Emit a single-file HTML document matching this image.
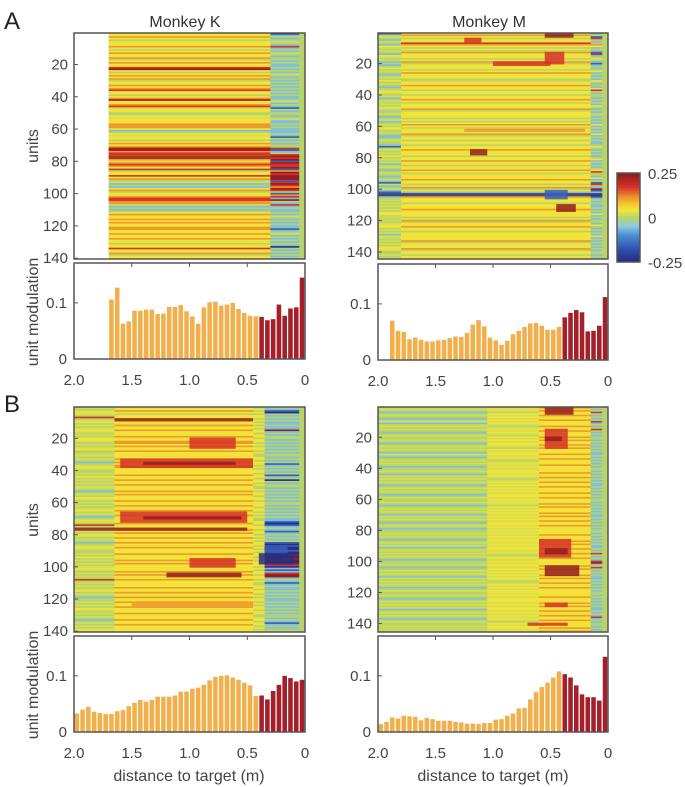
<!DOCTYPE html>
<html><head><meta charset="utf-8">
<style>
html,body{margin:0;padding:0;background:#fff;}
svg{display:block;font-family:"Liberation Sans","DejaVu Sans",sans-serif;}
</style></head>
<body>
<svg id="fig" width="685" height="787" viewBox="0 0 685 787" xmlns="http://www.w3.org/2000/svg">
<text x="4" y="29" font-size="24" fill="#222">A</text>
<text x="4" y="412" font-size="24" fill="#222">B</text>
<text x="185" y="27" font-size="16" fill="#333" text-anchor="middle">Monkey K</text>
<text x="489" y="27" font-size="16" fill="#333" text-anchor="middle">Monkey M</text>
<text transform="translate(38,146) rotate(-90)" font-size="16" fill="#444" text-anchor="middle">units</text>
<text transform="translate(38,312) rotate(-90)" font-size="16" fill="#444" text-anchor="middle">unit modulation</text>
<text transform="translate(38,520) rotate(-90)" font-size="16" fill="#444" text-anchor="middle">units</text>
<text transform="translate(38,685) rotate(-90)" font-size="16" fill="#444" text-anchor="middle">unit modulation</text>
<text x="189" y="781" font-size="16" fill="#444" text-anchor="middle">distance to target (m)</text>
<text x="493" y="781" font-size="16" fill="#444" text-anchor="middle">distance to target (m)</text>
<g id="layer"></g>
</svg>
<script>
// ---------- data ----------
const xTickVals = [2.0, 1.5, 1.0, 0.5, 0];
const xTickLabels = ["2.0", "1.5", "1.0", "0.5", "0"];
const unitTicks = [20, 40, 60, 80, 100, 120, 140];
const modTicks = [0, 0.1];
const modTickLabels = ["0", "0.1"];
const cbarTicks = [0.25, 0, -0.25];
const cbarLabels = ["0.25", "0", "-0.25"];

const akBarStart = 6;
const akBars = [0.106,0.127,0.063,0.067,0.086,0.086,0.088,0.088,0.080,0.081,0.093,0.093,0.096,0.085,0.076,0.063,0.092,0.101,0.102,0.095,0.097,0.100,0.089,0.082,0.077,0.076,
  0.075,0.069,0.071,0.097,0.077,0.090,0.092,0.145];
const amBarStart = 2;
const amBars = [0.070,0.052,0.050,0.037,0.040,0.036,0.033,0.033,0.035,0.036,0.039,0.042,0.041,0.048,0.063,0.071,0.060,0.040,0.035,0.027,0.034,0.046,0.052,0.059,0.065,0.066,0.061,0.054,0.054,0.059,
  0.076,0.084,0.089,0.085,0.051,0.052,0.061,0.112];
const bkBarStart = 0;
const bkBars = [0.033,0.040,0.045,0.036,0.034,0.032,0.032,0.037,0.039,0.046,0.052,0.057,0.054,0.057,0.063,0.063,0.063,0.065,0.072,0.072,0.077,0.079,0.084,0.092,0.098,0.100,0.101,0.097,0.093,0.088,0.083,0.064,
  0.065,0.058,0.073,0.084,0.100,0.096,0.090,0.093];
const bmBarStart = 0;
const bmBars = [0.014,0.018,0.026,0.024,0.029,0.028,0.027,0.021,0.025,0.023,0.020,0.020,0.020,0.018,0.017,0.015,0.015,0.014,0.016,0.016,0.022,0.023,0.029,0.033,0.042,0.043,0.058,0.071,0.080,0.088,0.097,0.108,
  0.103,0.097,0.083,0.067,0.062,0.062,0.056,0.134];

// heatmap row codes: n=-0.24 b=-0.16 c=-0.06 g=0 w=0.02 y=0.045 o=0.11 r=0.17 d=0.24
const akSegStart = [6, 34, 39];
const akMain = ["yyoygyyyoy","gyoyyogyoy","yrdygyoyog","yyoyoryygy","odyyorwyyg","gywyyyoooy","cgywyygyoy","orrorrygoy","oroyrgyyry","ogwcgcyogy","yorroowcgc","gyoyyoyoyy","ooyyoyyoyy","gyyryyogyy"].join("");
const akTail = ["ncgcgwgcrc","gcwgcggcgc","cgcgcwgcgc","gcgcgcgcgc","cgwcgcbgcg","gcgwccgcgc","ccgcbgcgcg","grbcgrdrdb","drrdbodrdd","dbrdrodrgb","orcdgcrcgc","cgcwgcgcgc","cbcgwcgcgc","gcngcgcgcg"].join("");
const akLast = "g";

const amSegStart = [0, 4, 37, 39];
const amLeft = ["bgwgcwgcyw","gwgcywgwcg","cgygwgcgwg","ygwgcgwywg","wcgwgwgyws","gwgcgwcgwg","ywgwgccgwg","gcbgwgwgyg","wgwcgwgcgw","gcgwcbwcgw","cbwgcgwgwg","wgwgyygwgw","gwyygwgwcw","wgwgwgyywg","gwgw"].join("");
const amMain = ["yoygyyroyg","ygoyyygyog","yyygyoyyyg","gyyoyygyyg","yyoygyyyog","yyyygygyoy","gyyyogyygy","ygyyoyyygy","yoyygyyoyg","yyyoyygyog","ycyyoyyygy","yyoyyyygyo","gyyoyygyyy","yyogyyyogy","ygyy"].join("");
const amTail = ["cgbrgcgoyc","gcrbcgygcb","cgcgycgcgc","ygcgcyrgcg","gcgcgcygcg","cggcgcgcyc","gcgcycgcgc","cgygcgcgcg","ycgcgcgyrg","gcycgbrgcd","bcgrbcgcgc","cgcgcycgcg","gcygcgcgcy","cgcgcgcgcg","gcgc"].join("");
const amLast = "g";

const bkSegStart = [0, 7, 31, 33, 39];
const bkLeft = ["wgwywgrgwy","gwgwywgwgy","ywgwgwyggw","wgwgcgwywg","gwgygwgwgw","wgcgwgywgw","gwgwygwgcg","ywgrgwgwgy","wgwgcgwywg","gwgygwgwgw","ywgwgwgrgw","gwgwygwgcg","gwgwgywgwg","wgcgwgwgyw"].join("");
const bkMain = ["yyoygyyoyy","yoyyoyyyoy","yooyoyyoyy","yyoyoyooyy","yyoyyoyyoy","yyoyoyyyoy","yoyyoyyoyy","yyoyyyoyoy","yoyyoyyoyy","yoyyyoyoyy","yyoyoyyoyy","yyoyyoyyoy","yoyyoyyyoy","yyoyyoyyyy"].join("");
const bkMid = ["gygygyygyg","ygygyygyyg","yygygyygyg","gyygyygygy","ygyygyygyg","gygyygyygy","yygyygygyg","gyygyygyyg","ygygyygygy","gyygygyyyg","ygyygyygyg","gyygyygygy","ygygyygyyg","gyygyygygy"].join("");
const bkTail = ["gcbngcgcgc","cgccdcgcgg","cgcgcgcgcg","gcgcgbcgcg","cgbcgngcgg","cgcgcgcgcg","gcgcgcgcgc","cbnbcgcbcg","cgcgbnbnnb","nndndnndrn","cbcrddcgcb","cgccgcgcgc","cgcgcgcgcg","gcgcbcgcgg"].join("");
const bkLast = "g";

const bmSegStart = [0, 19, 28, 37, 39];
const bmLeft = ["gwgcgwgcgw","cgwgwgcgwg","gwgcgwgwgc","wgcgwgwgcg","gwgcwgwgwg","cgwgwgcgwg","gwgcgwgwgc","wgwgcgwgcg","gwgwgcgwgw","cgwgwgwgcg","gwgcgwgwgc","wgwgwgcgwg","gwgcgwgwgw","cgwgwgcgwg","gwgwg"].join("");
const bmMid = ["wywgywywyw","ywgwywywgy","wywyywgywy","ywywgwywyw","wyywywgwyw","ywywywyywy","wywgywywyw","ywywyywywy","wywywyywyw","yywywgwywy","wyywywywyw","ywgwywywyy","wywyyywywy","ywywywywgy","wyywy"].join("");
const bmMain = ["oyoyyoyyoy","yyoyyoyyyo","yoyyoyoyyy","oyyoyyyoyy","yyoyyoyyoy","yoyyyoyyoy","yyoyoyyyoy","oyyoyyoyyy","yyoyyyoyoy","yoyyoyyoyy","yyoyoyyyoy","oyyoyyoyyy","yyoyyyoyoy","yoyyoyyoyy","yyoyo"].join("");
const bmTail = ["gcgrgcgcgr","cgcgrgcgcg","gcgcgcgcgc","cgcgcgcgcg","gcgcgcgcgc","cgcgcgcgcg","gcgcgcgcgc","cgcgcgcgcg","gcgcgcgcgc","cgcgrgcgcr","dcgrgcgcgc","cgcgcgcgcg","gcgcgcgcgc","cgcgcrcgcg","gcgcg"].join("");
const bmLast = "g";

const blobPanel = ["ak","ak","am","am","am","am","am","am","am","am","am","bk","bk","bk","bk","bk","bk","bk","bk","bk","bk","bk","bk","bm","bm","bm","bm","bm","bm","bm","bm"];
const blobR0 =    [72, 77, 1, 13, 4, 75, 103,101,110,19, 62, 8, 20,33, 35, 66,69, 76, 92, 95, 104,122,88, 1, 15, 20, 86, 92, 103,127,140];
const blobR1 =    [73, 78, 3, 20, 6, 78, 104,106,114,21, 63, 9, 26,38, 36, 72,70, 77, 98, 100,106,124,91, 5, 27, 22, 97, 95, 109,129,141];
const blobD0 =    [1.7,1.7,0.55,0.55,1.25,1.2,2.0,0.55,0.45,1.0,1.25,1.65,1.0,1.6,1.4,1.6,1.4,2.0,0.4,1.0,1.2,1.5,0.35,0.55,0.55,0.55,0.6,0.55,0.55,0.55,0.7];
const blobD1 =    [0.3,0.3,0.3,0.38,1.1,1.05,0.05,0.35,0.28,0.5,0.2,0.45,0.6,0.45,0.6,0.5,0.55,0.5,0.1,0.6,0.55,0.45,0.15,0.3,0.35,0.4,0.32,0.35,0.25,0.35,0.35];
const blobCode =  ["d","d","d","r","r","d","n","b","d","r","o","d","r","r","d","r","d","d","n","r","d","o","b","d","r","d","r","d","d","r","r"];

// ---------- rendering ----------
const NS = "http://www.w3.org/2000/svg";
const layer = document.getElementById("layer");
const codeVal = {n:-0.24,b:-0.16,c:-0.06,s:-0.03,g:0,w:0.02,y:0.045,o:0.11,r:0.17,d:0.24};
const stops = [[-0.25,[40,40,122]],[-0.18,[48,80,176]],[-0.10,[74,144,208]],[-0.05,[140,203,224]],[0,[184,212,104]],[0.04,[242,232,58]],[0.08,[245,192,48]],[0.12,[236,138,44]],[0.17,[214,50,40]],[0.25,[138,26,30]]];
function cmap(v){
  if(v<=stops[0][0]) return rgb(stops[0][1]);
  for(let i=1;i<stops.length;i++){
    if(v<=stops[i][0]){const a=stops[i-1],b=stops[i];const t=(v-a[0])/(b[0]-a[0]);
      return rgb(a[1].map((c,k)=>Math.round(c+(b[1][k]-c)*t)));}
  }
  return rgb(stops[stops.length-1][1]);
}
function rgb(a){return "rgb("+a.join(",")+")";}
function el(tag, attrs, parent){const e=document.createElementNS(NS,tag);for(const k in attrs)e.setAttribute(k,attrs[k]);(parent||layer).appendChild(e);return e;}

function drawHeatmap(id, box, nRows, segStart, segCodes, lastCode){
  const g = el("g",{});
  
  
  const binW = (box.x1-box.x0)/40, rowH = (box.y1-box.y0)/nRows;
  const xOf = d => box.x0 + (2-d)/2*(box.x1-box.x0);
  for(let r=0;r<nRows;r++){
    for(let s=0;s<segStart.length;s++){
      const b0 = segStart[s], b1 = s+1<segStart.length ? segStart[s+1] : 40;
      const codes = segCodes[s];
      const ch = codes ? (codes.charAt(r) || "y") : lastCode;
      const rect = el("rect",{x:(box.x0+b0*binW).toFixed(2), y:(box.y0+r*rowH).toFixed(2), width:((b1-b0)*binW+0.3).toFixed(2), height:(rowH+0.3).toFixed(2), fill:cmap(codeVal[ch])}, g);
      
      
    }
  }
  for(let i=0;i<blobPanel.length;i++){
    if(blobPanel[i]!==id) continue;
    const rect = el("rect",{x:xOf(blobD0[i]).toFixed(2), y:(box.y0+(blobR0[i]-1)*rowH).toFixed(2), width:(xOf(blobD1[i])-xOf(blobD0[i])).toFixed(2), height:((blobR1[i]-blobR0[i]+1)*rowH).toFixed(2), fill:cmap(codeVal[blobCode[i]]), opacity:0.85}, g);
    
    
  }
  const frame = el("rect",{x:box.x0,y:box.y0,width:box.x1-box.x0,height:box.y1-box.y0,fill:"none",stroke:"#555","stroke-width":1.5});
  
  
  const unitsPx = (box.y1-box.y0)/nRows;
  unitTicks.forEach(u=>{
    const y = box.y0 + (u-0.5)*unitsPx;
    if(y>box.y1+2) return;
    el("line",{x1:box.x0,x2:box.x0+4,y1:y,y2:y,stroke:"#555","stroke-width":1});
    const t = el("text",{x:box.x0-6,y:y+5,"font-size":15,fill:"#444","text-anchor":"end"});
    t.textContent = u;
    
    
  });
}

function drawBars(id, box, start, vals){
  const g = el("g",{});
  
  
  const ymax = 0.171;
  const binW = (box.x1-box.x0)/40;
  const yOf = v => box.y1 - v/ymax*(box.y1-box.y0);
  const xOf = d => box.x0 + (2-d)/2*(box.x1-box.x0);
  vals.forEach((v,i)=>{
    const bin = start+i;
    const rect = el("rect",{x:(box.x0+bin*binW+0.5).toFixed(2), y:yOf(v).toFixed(2), width:(binW-1.2).toFixed(2), height:(box.y1-yOf(v)).toFixed(2), fill: bin>=32 ? "#a51f2b" : "#f1b04c"}, g);
    
    
  });
  const frame = el("rect",{x:box.x0,y:box.y0,width:box.x1-box.x0,height:box.y1-box.y0,fill:"none",stroke:"#555","stroke-width":1.5});
  
  
  modTicks.forEach((v,i)=>{
    const y = yOf(v);
    el("line",{x1:box.x0,x2:box.x0+4,y1:y,y2:y,stroke:"#555","stroke-width":1});
    const t = el("text",{x:box.x0-7,y:y+5,"font-size":15,fill:"#444","text-anchor":"end"});
    t.textContent = modTickLabels[i];
    
    
  });
  xTickVals.forEach((d,i)=>{
    const x = xOf(d);
    el("line",{x1:x,x2:x,y1:box.y0,y2:box.y0+4,stroke:"#555","stroke-width":1});
    const t = el("text",{x:x,y:box.y1+26,"font-size":15,fill:"#444","text-anchor":"middle"});
    t.textContent = xTickLabels[i];
    
    
  });
}

drawHeatmap("ak",{x0:74,x1:305,y0:33,y1:259},140,akSegStart,[akMain,akTail,null],akLast);
drawHeatmap("am",{x0:378,x1:608,y0:33,y1:259},144,amSegStart,[amLeft,amMain,amTail,null],amLast);
drawHeatmap("bk",{x0:74,x1:305,y0:407,y1:632},140,bkSegStart,[bkLeft,bkMain,bkMid,bkTail,null],bkLast);
drawHeatmap("bm",{x0:378,x1:608,y0:407,y1:632},145,bmSegStart,[bmLeft,bmMid,bmMain,bmTail,null],bmLast);
drawBars("ak",{x0:74,x1:305,y0:263,y1:359},akBarStart,akBars);
drawBars("am",{x0:378,x1:608,y0:264,y1:360},amBarStart,amBars);
drawBars("bk",{x0:74,x1:305,y0:636,y1:732},bkBarStart,bkBars);
drawBars("bm",{x0:378,x1:608,y0:636,y1:732},bmBarStart,bmBars);

(function(){
  const cb = {x0:617,x1:640,y0:173,y1:262};
  const g = el("g",{});
  
  
  const n = 60;
  for(let i=0;i<n;i++){
    const v = 0.25 - (i+0.5)/n*0.5;
    el("rect",{x:cb.x0,y:cb.y0+i*(cb.y1-cb.y0)/n,width:cb.x1-cb.x0,height:(cb.y1-cb.y0)/n+0.4,fill:cmap(v)},g);
  }
  el("rect",{x:cb.x0,y:cb.y0,width:cb.x1-cb.x0,height:cb.y1-cb.y0,fill:"none",stroke:"#555","stroke-width":1.5},g);
  cbarTicks.forEach((v,i)=>{
    const y = cb.y0 + (0.25-v)/0.5*(cb.y1-cb.y0);
    const t = el("text",{x:cb.x1+8,y:y+6,"font-size":15,fill:"#444"},g);
    t.textContent = cbarLabels[i];
    
    
  });
})();
</script>
</body></html>
